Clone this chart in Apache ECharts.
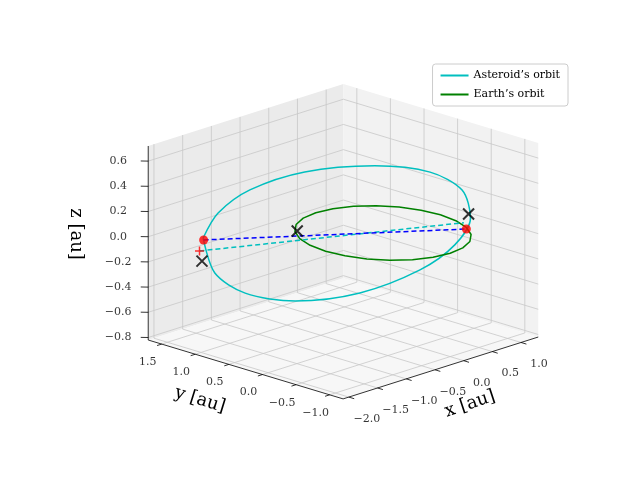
<!DOCTYPE html>
<html><head><meta charset="utf-8">
<script src="https://cdn.jsdelivr.net/npm/echarts@6/dist/echarts.min.js"></script>
<style>html,body{margin:0;background:#fff}#main{width:640px;height:480px}</style>
</head><body><div id="main"></div>
<script>
// 3D data in au
var xTicks = [-2.0, -1.5, -1.0, -0.5, 0.0, 0.5, 1.0];
var yTicks = [-1.0, -0.5, 0.0, 0.5, 1.0, 1.5];
var zTicks = [-0.8, -0.6, -0.4, -0.2, 0.0, 0.2, 0.4, 0.6];
var xRange = [-2.1, 1.3], yRange = [-1.2, 1.7], zRange = [-0.82, 0.72];

var earthOrbit = [[1,0,0],[0.966,0.259,0],[0.866,0.5,0],[0.707,0.707,0],[0.5,0.866,0],[0.259,0.966,0],
  [0,1,0],[-0.259,0.966,0],[-0.5,0.866,0],[-0.707,0.707,0],[-0.866,0.5,0],[-0.966,0.259,0],
  [-1,0,0],[-0.966,-0.259,0],[-0.866,-0.5,0],[-0.707,-0.707,0],[-0.5,-0.866,0],[-0.259,-0.966,0],
  [0,-1,0],[0.259,-0.966,0],[0.5,-0.866,0],[0.707,-0.707,0],[0.866,-0.5,0],[0.966,-0.259,0],[1,0,0]];
var asteroidOrbit = [[-1.67,1.25,0],[-1.55,1.13,0.2],[-1.16,0.99,0.35],[-0.72,0.55,0.5],
  [-0.13,0.01,0.55],[0.34,-0.41,0.5],[0.64,-0.63,0.35],[0.81,-0.61,0.1],[0.63,-0.53,-0.1],
  [0.34,-0.26,-0.3],[-0.11,0.25,-0.5],[-0.71,0.70,-0.55],[-1.09,1.12,-0.5],[-1.49,1.23,-0.3],
  [-1.67,1.25,0]];
var redDots = [[-1.72,1.2,0],[0.82,-0.54,0]];
var blackCross = [[-0.675,0.70,0],[0.73,-0.65,0.15],[-1.62,1.31,-0.2]];
var redPlus = [[-1.71,1.27,-0.1]];
var cyanLink = [[-1.71,1.27,-0.1],[0.80,-0.52,0.05]];

// simple affine projection to screen
var C = [383, 233], EX = [57.4, -18.2], EY = [-67.2, -20.3], EZ = [0, -126];
function P(p) {
  return [C[0] + p[0]*EX[0] + p[1]*EY[0] + p[2]*EZ[0],
          C[1] + p[0]*EX[1] + p[1]*EY[1] + p[2]*EZ[1]];
}
var x0 = xRange[0], x1 = xRange[1], y0 = yRange[0], y1 = yRange[1], z0 = zRange[0], z1 = zRange[1];
var panes = [
  {pts: [[x0,y1,z0],[x1,y1,z0],[x1,y1,z1],[x0,y1,z1]], c: '#ebebeb'},
  {pts: [[x1,y0,z0],[x1,y1,z0],[x1,y1,z1],[x1,y0,z1]], c: '#f2f2f2'},
  {pts: [[x0,y0,z0],[x1,y0,z0],[x1,y1,z0],[x0,y1,z0]], c: '#f7f7f7'}
];
var grid = [];
xTicks.forEach(function (x) { grid.push(P([x,y0,z0]), P([x,y1,z0]), P([x,y1,z1]), [null,null]); });
yTicks.forEach(function (y) { grid.push(P([x0,y,z0]), P([x1,y,z0]), P([x1,y,z1]), [null,null]); });
zTicks.forEach(function (z) { grid.push(P([x0,y1,z]), P([x1,y1,z]), P([x1,y0,z]), [null,null]); });
var axes = [P([x0,y0,z0]), P([x1,y0,z0]), [null,null], P([x0,y0,z0]), P([x0,y1,z0]), [null,null],
  P([x0,y1,z0]), P([x0,y1,z1])];
var ticks = [];
xTicks.forEach(function (x) { ticks.push(P([x,y0,z0]), P([x,y0-0.08,z0]), [null,null]); });
yTicks.forEach(function (y) { ticks.push(P([x0,y,z0]), P([x0-0.08,y,z0]), [null,null]); });
zTicks.forEach(function (z) { ticks.push(P([x0,y1,z]), P([x0-0.06,y1+0.06,z]), [null,null]); });

function fmt(v) { return (v < 0 ? '\u2212' : '') + Math.abs(v).toFixed(1); }
function tickLabels(list, f, off) {
  return {
    type: 'scatter', symbolSize: 1, itemStyle: {color: 'rgba(0,0,0,0)'}, silent: true, z: 5,
    data: list.map(function (v) { return {value: P(f(v)), name: fmt(v)}; }),
    label: {show: true, position: 'inside', offset: off, formatter: '{b}',
      fontFamily: 'DejaVu Serif', fontSize: 11, color: '#000'}
  };
}
function line(pts, color, dashed, z) {
  return {type: 'line', data: pts.map(P), symbol: 'none', smooth: dashed ? false : 0.3, silent: true, z: z || 3,
    lineStyle: {color: color, width: 1.5, type: dashed ? [5, 3] : 'solid'}};
}
var serif = 'DejaVu Serif';
var option = {
  animation: false,
  grid: {left: 0, right: 0, top: 0, bottom: 0},
  xAxis: {type: 'value', min: 0, max: 640, show: false},
  yAxis: {type: 'value', min: 0, max: 480, inverse: true, show: false},
  legend: {
    right: 72, top: 64, orient: 'vertical', itemWidth: 28, itemHeight: 2, itemGap: 8,
    padding: [6, 8], borderColor: '#ccc', borderWidth: 1, borderRadius: 3, backgroundColor: '#fff',
    textStyle: {fontFamily: serif, fontSize: 11, color: '#000'},
    data: [{name: "Asteroid\u2019s orbit", icon: 'rect'}, {name: "Earth\u2019s orbit", icon: 'rect'}]
  },
  series: [
    {type: 'custom', silent: true, z: 1, data: panes.map(function (p, i) { return i; }),
      renderItem: function (params, api) {
        var pn = panes[params.dataIndex];
        return {type: 'polygon', shape: {points: pn.pts.map(function (q) { return api.coord(P(q)); })},
          style: {fill: pn.c, stroke: null}};
      }},
    {type: 'line', data: grid, symbol: 'none', silent: true, z: 2, connectNulls: false,
      lineStyle: {color: '#c8c8c8', width: 0.8}},
    {type: 'line', data: axes, symbol: 'none', silent: true, z: 2, lineStyle: {color: '#000', width: 0.8}},
    {type: 'line', data: ticks, symbol: 'none', silent: true, z: 2, lineStyle: {color: '#000', width: 0.8}},
    tickLabels(xTicks, function (v) { return [v, y0, z0]; }, [18, 22]),
    tickLabels(yTicks, function (v) { return [x0, v, z0]; }, [-14, 18]),
    tickLabels(zTicks, function (v) { return [x0, y1, v]; }, [-30, 0]),
    Object.assign(line(asteroidOrbit, '#00bfbf'), {name: "Asteroid\u2019s orbit", color: '#00bfbf'}),
    Object.assign(line(earthOrbit, '#008000'), {name: "Earth\u2019s orbit", color: '#008000', smooth: false}),
    line(cyanLink, '#00bfbf', true),
    line(redDots, '#0000ff', true, 4),
    {type: 'scatter', data: redDots.map(P), symbol: 'circle', symbolSize: 9, z: 6, silent: true,
      itemStyle: {color: '#ff0000'}},
    {type: 'scatter', data: blackCross.map(P), z: 6, silent: true, symbolSize: 11,
      symbol: 'path://M0,0L10,10M10,0L0,10', itemStyle: {color: 'none', borderColor: '#000', borderWidth: 2}},
    {type: 'scatter', data: redPlus.map(P), z: 6, silent: true, symbolSize: 9,
      symbol: 'path://M5,0L5,10M0,5L10,5', itemStyle: {color: 'none', borderColor: '#ff0000', borderWidth: 1.5}}
  ],
  graphic: [
    {type: 'text', x: 470, y: 404, rotation: 0.32, style: {text: 'x [au]', font: '18px "DejaVu Serif"', fill: '#000', align: 'center', verticalAlign: 'middle'}},
    {type: 'text', x: 200, y: 400, rotation: -0.3, style: {text: 'y [au]', font: '18px "DejaVu Serif"', fill: '#000', align: 'center', verticalAlign: 'middle'}},
    {type: 'text', x: 76, y: 234, rotation: -Math.PI / 2, style: {text: 'z [au]', font: '18px "DejaVu Serif"', fill: '#000', align: 'center', verticalAlign: 'middle'}}
  ]
};
echarts.init(document.getElementById('main')).setOption(option);
</script></body></html>
